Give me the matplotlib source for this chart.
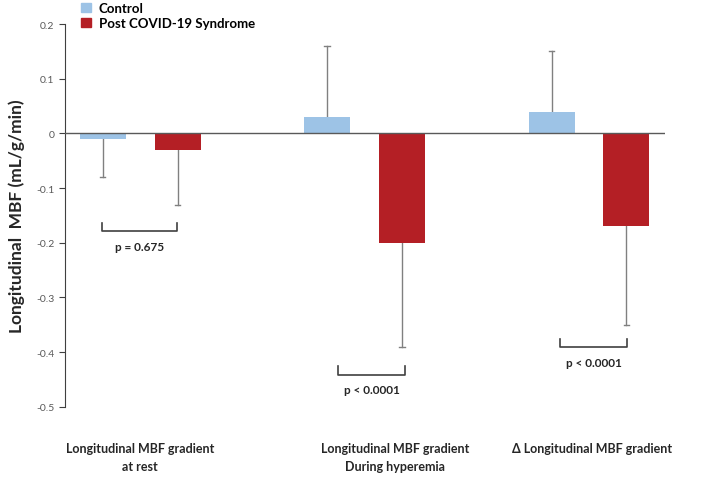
import numpy as np
import matplotlib
matplotlib.use("Agg")
from matplotlib import pyplot as plt
from matplotlib.patches import Patch

plt.rcParams['font.family'] = ['Lato', 'DejaVu Sans']

# veriler
gruplar = ["Longitudinal MBF gradient\nat rest",
           "Longitudinal MBF gradient\nDuring hyperemia",
           "\u0394 Longitudinal MBF gradient"]
etiket_x = [0.0, 1.136, 2.013]
kontrol = [-0.01, 0.03, 0.04]
kontrol_hata = [0.07, 0.13, 0.11]
covid = [-0.03, -0.20, -0.17]
covid_hata = [0.10, 0.19, 0.18]
p_degerleri = ["p = 0.675", "p < 0.0001", "p < 0.0001"]
parantez_x = [(-0.169, 0.165), (0.882, 1.180), (1.871, 2.169)]
parantez_y = [-0.179, -0.441, -0.391]
seriler = ["Control", "Post COVID-19 Syndrome"]

mavi = "#9dc3e6"
kirmizi = "#b41f25"
gri = "#808080"

fig = plt.figure(figsize=(7.09, 4.81), dpi=100)
ax = fig.add_axes([0.0917, 0.152, 0.846, 0.796])

x = np.arange(len(gruplar))
w = 0.205
d = 0.167

ax.bar(x - d, kontrol, w, color=mavi, zorder=2)
ax.bar(x + d, covid, w, color=kirmizi, zorder=2)

# tek yonlu hata cubuklari (sadece uc kisimda sapka)
cap = 0.012
for i in range(len(x)):
    for xx, v, e in [(x[i] - d, kontrol[i], kontrol_hata[i]), (x[i] + d, covid[i], covid_hata[i])]:
        uc = v + e if v >= 0 else v - e
        ax.plot([xx, xx], [v, uc], color=gri, lw=1, zorder=1)
        ax.plot([xx - cap, xx + cap], [uc, uc], color=gri, lw=1, zorder=1)

ax.axhline(0, color="#595959", lw=1, zorder=3)

# p degerleri
h = 0.015
for (x1, x2), y, p in zip(parantez_x, parantez_y, p_degerleri):
    ax.plot([x1, x1, x2, x2], [y + h, y, y, y + h], color="#404040", lw=1.2)
    ax.text((x1 + x2) / 2, y - 0.017, p, ha="center", va="top",
            fontsize=8.5, fontweight="bold", color="#262626")

ax.set_xlim(-0.335, 2.338)
ax.set_ylim(-0.5, 0.2)
ax.set_yticks([0.2, 0.1, 0, -0.1, -0.2, -0.3, -0.4, -0.5])
ax.set_yticklabels(["0.2", "0.1", "0", "-0.1", "-0.2", "-0.3", "-0.4", "-0.5"])
ax.tick_params(axis="y", labelsize=7.5, labelcolor="#595959", color="#404040",
               length=4, direction="out")
ax.set_xticks([])
for s in ["top", "right", "bottom"]:
    ax.spines[s].set_visible(False)
ax.spines["left"].set_color("#404040")

for gx, g in zip(etiket_x, gruplar):
    ax.text(gx, -0.565, g, ha="center", va="top", fontsize=9,
            fontweight="bold", color="#262626", linespacing=1.6)

ax.set_ylabel("Longitudinal  MBF (mL/g/min)", fontsize=12.5, fontweight="bold",
              color="#262626", labelpad=8)

tutamaclar = [Patch(color=mavi), Patch(color=kirmizi)]
ax.legend(tutamaclar, seriler, loc="upper left", bbox_to_anchor=(0.098, 1.018),
          bbox_transform=fig.transFigure, frameon=False, handlelength=0.7,
          handleheight=0.7, handletextpad=0.6, labelspacing=0.2,
          prop={"weight": "bold", "size": 9.5})

fig.savefig("out.png", dpi=100)
